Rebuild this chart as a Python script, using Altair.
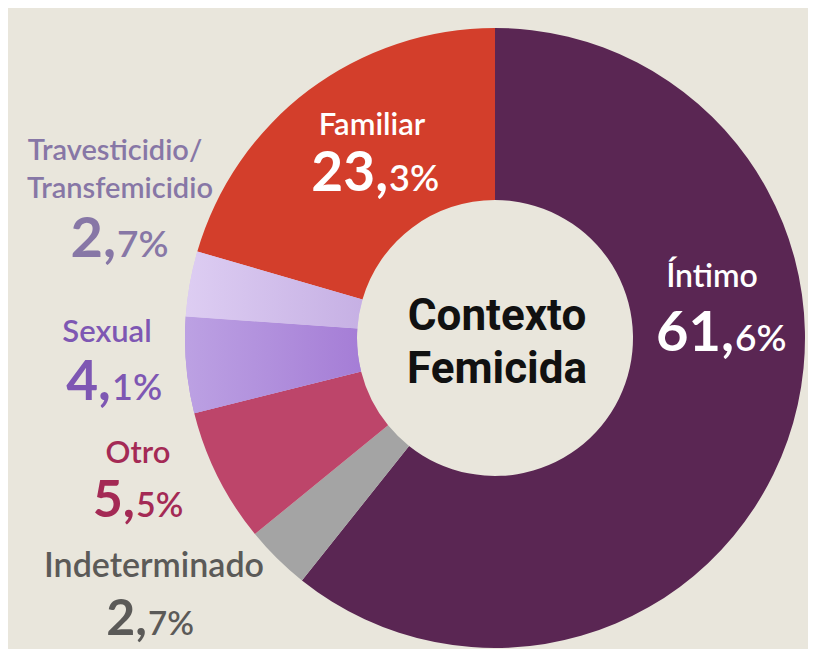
import math
import altair as alt
import pandas as pd

# ---- data ----
categories = ["Íntimo", "Indeterminado", "Otro", "Sexual",
              "Travesticidio/Transfemicidio", "Familiar"]
reported = [61.6, 2.7, 5.5, 4.1, 2.7, 23.3]          # values printed on the chart
drawn_share = [60.7, 3.4, 7.0, 5.0, 3.4, 20.5]       # slice sizes as drawn in the picture
slice_colors = ["#5a2653", "#a4a4a4", "#bd456a", "#b08ddb", "#d6c3ee", "#d33e2b"]
label_colors = ["#ffffff", "#5b5a58", "#a42a55", "#7e57b3", "#8777a6", "#ffffff"]
name_lines = [["Íntimo"], ["Indeterminado"], ["Otro"], ["Sexual"],
              ["Travesticidio/", "Transfemicidio"], ["Familiar"]]
center_lines = ["Contexto", "Femicida"]

# ---- layout (chart pixel coordinates) ----
CX, CY, R_OUT, R_IN = 487, 330, 310, 138
name_pos = [[(704, 279)], [(146, 569)], [(130, 455)], [(99, 334)],
            [(107, 152), (112, 190)], [(364, 127)]]
name_size = [32, 34, 31, 31, 29, 31]
num_pos = [(726, 343), (139, 627), (127, 509), (103, 392), (108, 249), (380, 183)]
num_size = [56, 50, 52, 55, 56, 55]
center_pos = [(489, 322), (489, 375)]

W, H = 800, 641

df = pd.DataFrame({"cat": categories, "share": drawn_share,
                   "order": list(range(len(categories))), "color": slice_colors})

base = alt.Chart(df).transform_window(
    end="sum(share)", sort=[alt.SortField("order")], frame=[None, 0]
).transform_calculate(start="datum.end - datum.share")

theta_scale = alt.Scale(domain=[0, 100], range=[0, 2 * math.pi])
arcs = base.mark_arc(outerRadius=R_OUT, innerRadius=R_IN, stroke=None).encode(
    theta=alt.Theta("start:Q", scale=theta_scale),
    theta2="end:Q",
    color=alt.Color("color:N", scale=None),
    x=alt.value(CX), y=alt.value(CY),
)

def grad_arc(cat, c1, c2):
    return base.transform_filter(alt.datum.cat == cat).mark_arc(
        outerRadius=R_OUT, innerRadius=R_IN,
        fill=alt.Gradient(gradient="linear", x1=0, x2=1, y1=0, y2=0,
                          stops=[alt.GradientStop(color=c1, offset=0),
                                 alt.GradientStop(color=c2, offset=1)])
    ).encode(theta=alt.Theta("start:Q", scale=theta_scale), theta2="end:Q",
             x=alt.value(CX), y=alt.value(CY))

sexual_g = grad_arc("Sexual", "#bca1e3", "#a57dd6")
trav_g = grad_arc("Travesticidio/Transfemicidio", "#ddcdf2", "#c6b0e4")

# text tables
names, bigs, smalls = [], [], []
for i, v in enumerate(reported):
    for line, (x, y) in zip(name_lines[i], name_pos[i]):
        names.append({"t": line, "x": x, "y": y, "s": name_size[i], "c": label_colors[i]})
    ip, dp = f"{v:.1f}".split(".")
    x, y = num_pos[i]
    bigs.append({"t": ip + ",", "x": x, "y": y, "s": num_size[i], "c": label_colors[i]})
    smalls.append({"t": dp + "%", "x": x + 1, "y": y, "s": round(num_size[i] * 0.66), "c": label_colors[i]})

def text_layer(rows, align, weight, font="Lato"):
    return alt.Chart(pd.DataFrame(rows)).mark_text(
        align=align, baseline="alphabetic", font=font, fontWeight=weight
    ).encode(
        x=alt.X("x:Q", scale=None), y=alt.Y("y:Q", scale=None),
        text="t:N", size=alt.Size("s:Q", scale=None),
        color=alt.Color("c:N", scale=None),
    )

center_df = [{"t": t, "x": x, "y": y, "s": 44, "c": "#111111"}
             for t, (x, y) in zip(center_lines, center_pos)]

chart = alt.layer(
    arcs, sexual_g, trav_g,
    text_layer(names, "center", 600),
    text_layer(bigs, "right", 700),
    text_layer(smalls, "left", 600),
    text_layer(center_df, "center", 700, font="Roboto"),
).properties(
    width=W, height=H, background="#e9e6dc", padding=0,
    autosize=alt.AutoSizeParams(type="none"),
).configure_view(stroke=None)

chart.save("out.html", embed_options={"renderer": "svg", "actions": False})
